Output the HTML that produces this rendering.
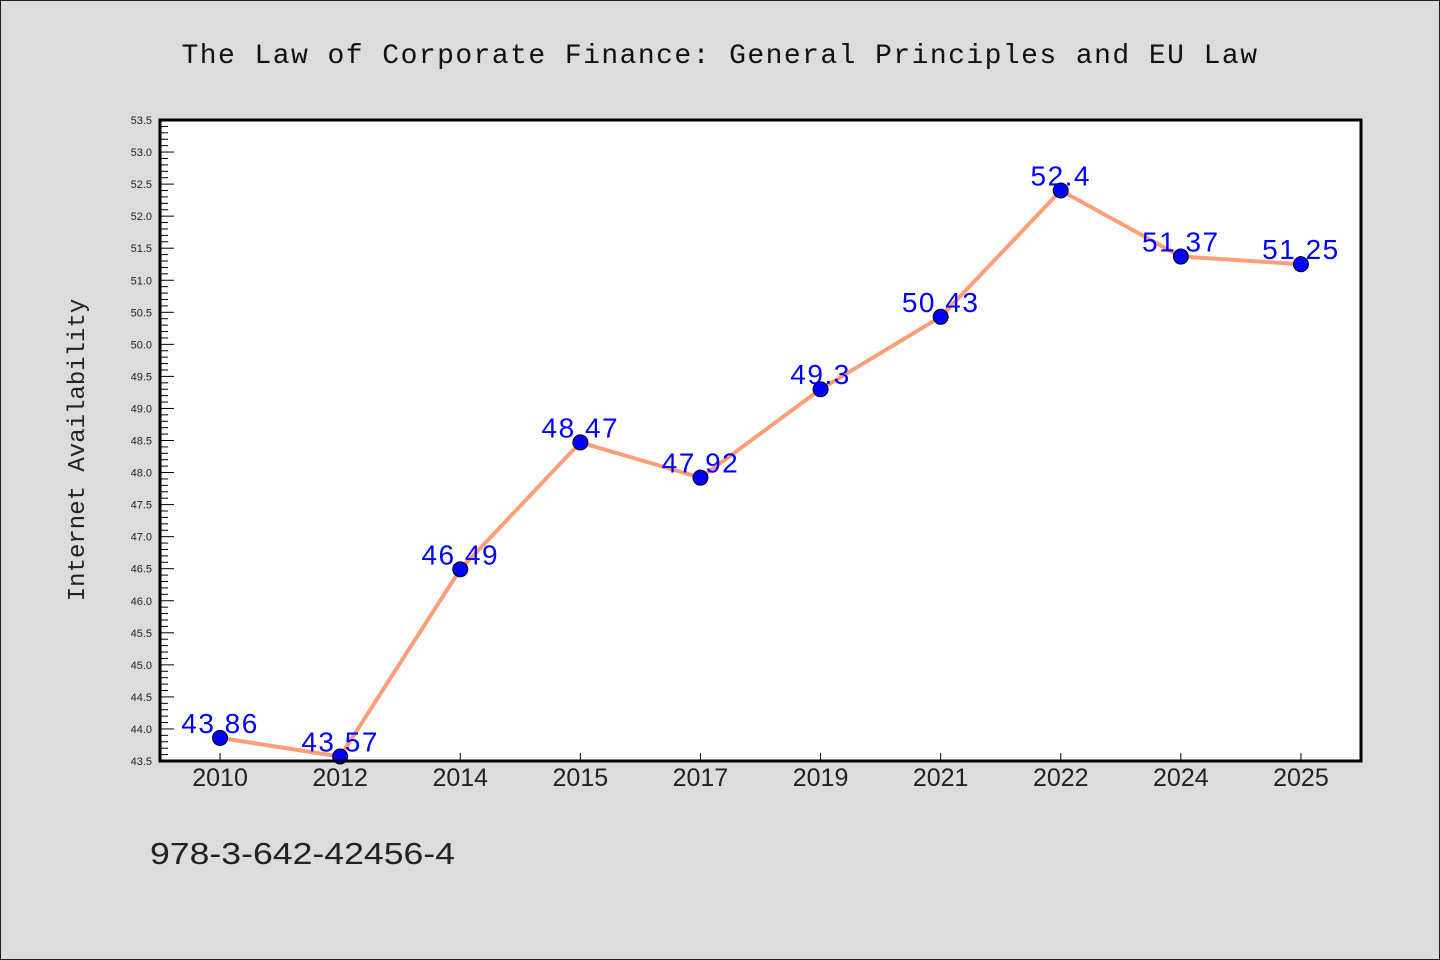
<!DOCTYPE html>
<html><head><meta charset="utf-8"><style>
body{margin:0;background:#dcdcdc}
svg{display:block}
</style></head><body>
<svg id="chart" width="1440" height="960" xmlns="http://www.w3.org/2000/svg">
<rect x="0.5" y="0.5" width="1439" height="959" fill="#dcdcdc" stroke="#222"/>
<text x="720" y="63" text-anchor="middle" font-family="Liberation Mono, monospace" font-size="28" letter-spacing="1.45" fill="#111">The Law of Corporate Finance: General Principles and EU Law</text>
<rect x="160" y="120" width="1201" height="641" fill="#fff"/>
<g id="axes"></g>
<g id="marks"></g>
<rect x="160" y="120" width="1201" height="641" fill="none" stroke="#000" stroke-width="3"/>
<text transform="translate(84,450) rotate(-90)" text-anchor="middle" font-family="Liberation Mono, monospace" font-size="24" fill="#222">Internet Availability</text>
<text x="150" y="864" font-family="Liberation Sans, sans-serif" font-size="31" textLength="305" lengthAdjust="spacingAndGlyphs" fill="#222">978-3-642-42456-4</text>
</svg>
<script>
const categories=["2010","2012","2014","2015","2017","2019","2021","2022","2024","2025"];
const values=[43.86,43.57,46.49,48.47,47.92,49.3,50.43,52.4,51.37,51.25];
const valueLabels=["43.86","43.57","46.49","48.47","47.92","49.3","50.43","52.4","51.37","51.25"];
const yMin=43.5,yMax=53.5;
const NS="http://www.w3.org/2000/svg";
const L=160,T=120,W=1201,H=641;
const band=W/categories.length;
const xs=i=>L+band*(i+0.5);
const ys=v=>T+H-(v-yMin)/(yMax-yMin)*H;
function mk(tag,attrs,parent){const e=document.createElementNS(NS,tag);for(const k in attrs)e.setAttribute(k,attrs[k]);parent.appendChild(e);return e;}
const axes=document.getElementById('axes'),marks=document.getElementById('marks');
for(let k=0;k<=100;k++){
  const v=yMin+k*0.1,y=ys(v),major=k%5===0;
  const t=mk('line',{x1:L,x2:L+(major?14:8),y1:y,y2:y,stroke:'#000','stroke-width':1},axes);
  
  
  if(major){
    const lb=mk('text',{x:L-8,y:y+4,'text-anchor':'end','font-family':'Liberation Sans, sans-serif','font-size':11,fill:'#222'},axes);
    lb.textContent=v.toFixed(1);
    
    
  }
}
categories.forEach((c,i)=>{
  const x=xs(i);
  const t=mk('line',{x1:x,x2:x,y1:T+H,y2:T+H-8,stroke:'#000','stroke-width':1},axes);
  
  
  const lb=mk('text',{x:x,y:T+H+25,'text-anchor':'middle','font-family':'Liberation Sans, sans-serif','font-size':25,fill:'#222'},axes);
  lb.textContent=c;
  
  
});
const line=mk('polyline',{points:values.map((v,i)=>xs(i)+','+ys(v)).join(' '),fill:'none',stroke:'#ff9f7a','stroke-width':4},marks);


values.forEach((v,i)=>{
  const lb=mk('text',{x:xs(i),y:ys(v)-5,'text-anchor':'middle','font-family':'Liberation Sans, sans-serif','font-size':28,'letter-spacing':1.5,fill:'#0000ff'},marks);
  lb.textContent=valueLabels[i];
  
  
});
values.forEach((v,i)=>{
  const p=mk('circle',{cx:xs(i),cy:ys(v),r:7.5,fill:'#0000ff',stroke:'#000','stroke-width':1},marks);
  
  
});
</script>
</body></html>
